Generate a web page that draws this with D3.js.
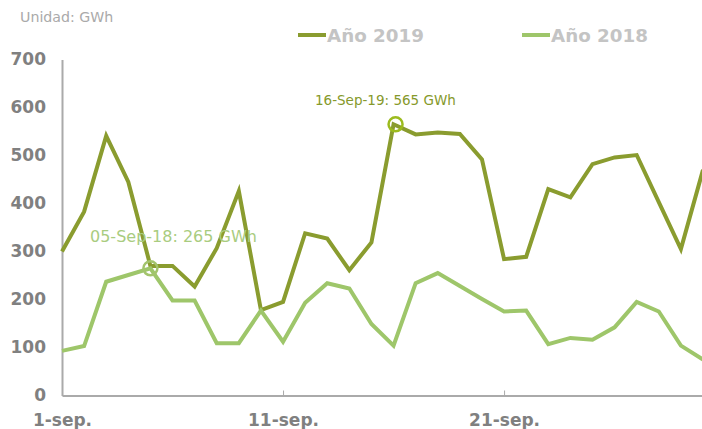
<!DOCTYPE html>
<html><head><meta charset="utf-8">
<script src="https://cdn.jsdelivr.net/npm/d3@7"></script>
<style>body{margin:0;background:#fff}svg{display:block}</style>
</head><body>
<svg id="c" width="702" height="429"></svg>
<script>
const days = d3.range(1, 31);
const values2019 = [300,383,541,445,270,270,227,307,426,178,195,338,327,261,319,565,544,548,545,492,284,289,430,413,482,496,501,403,305,470];
const values2018 = [93,103,237,251,265,198,198,109,109,177,112,193,234,223,149,104,234,255,228,201,175,177,107,120,116,142,195,175,104,75];
const yTicks = [0,100,200,300,400,500,600,700];
const xTickDays = [1,11,21];
const xTickLabels = ["1-sep.","11-sep.","21-sep."];
const seriesNames = ["Año 2019","Año 2018"];
const annotations = [
  {series:0, day:16, value:565, label:"16-Sep-19: 565 GWh"},
  {series:1, day:5, value:265, label:"05-Sep-18: 265 GWh"}
];
const colors = ["#8a9c2f","#9ec66a"];
const circleColors = ["#9cbb1e","#a3c46d"];
const labelColors = ["#86992b","#a9cc80"];

const svg = d3.select("#c");
const font = "Verdana, 'DejaVu Sans', sans-serif";
const x = d3.scaleLinear().domain([1,30]).range([62,703]);
const y = d3.scaleLinear().domain([0,700]).range([395.5,59.5]);

svg.append("text").attr("x",20).attr("y",22).attr("font-family",font)
  .attr("font-size",14.2).attr("fill","#aaaaaa").text("Unidad: GWh");

// y axis
const ya = svg.append("g").attr("transform","translate(62,0)")
  .call(d3.axisLeft(y).tickValues(yTicks).tickSize(0).tickPadding(16));
ya.select(".domain").attr("stroke","#aaaaaa").attr("stroke-width",2);
ya.selectAll("text").attr("font-family",font).attr("font-size",17).attr("font-weight","bold").attr("fill","#808080");

// x axis
const xa = svg.append("g").attr("transform","translate(0,395.5)")
  .call(d3.axisBottom(x).tickValues(xTickDays).tickFormat((d,i)=>xTickLabels[i]).tickSizeInner(-5).tickSizeOuter(0).tickPadding(15));
xa.select(".domain").attr("stroke","#aaaaaa").attr("stroke-width",2);
xa.selectAll(".tick line").attr("stroke","#aaaaaa");
xa.selectAll(".tick").filter(d=>d===1).select("line").remove();
xa.selectAll("text").attr("font-family",font).attr("font-size",17).attr("font-weight","bold").attr("fill","#808080").attr("dy","0.9em");

const line = d3.line().x((d,i)=>x(days[i])).y(d=>y(d));
const plot = svg.append("g");
[values2019, values2018].forEach((vals, k) => {
  plot.append("path").datum(vals).attr("d",line).attr("fill","none")
    .attr("stroke",colors[k]).attr("stroke-width",4).attr("stroke-linejoin","miter");
});

// annotations
annotations.forEach(a => {
  svg.append("circle").attr("cx",x(a.day)+(a.series===0?2:0)).attr("cy",y(a.value)).attr("r",7)
    .attr("fill","none").attr("stroke",circleColors[a.series]).attr("stroke-width",2.5);
});
svg.append("text").attr("x",315).attr("y",105).attr("font-family",font).attr("font-size",13.5)
  .attr("fill",labelColors[0]).text(annotations[0].label);
svg.append("text").attr("x",90).attr("y",242).attr("font-family",font).attr("font-size",16)
  .attr("fill",labelColors[1]).text(annotations[1].label);

// legend
const legX = [298,522];
seriesNames.forEach((n,i)=>{
  svg.append("line").attr("x1",legX[i]).attr("x2",legX[i]+28).attr("y1",35).attr("y2",35)
    .attr("stroke",colors[i]).attr("stroke-width",4);
  svg.append("text").attr("x",legX[i]+29).attr("y",41.5).attr("font-family",font).attr("font-size",18.3)
    .attr("font-weight","bold").attr("fill","#c4c4c4").text(n);
});
</script>
</body></html>
